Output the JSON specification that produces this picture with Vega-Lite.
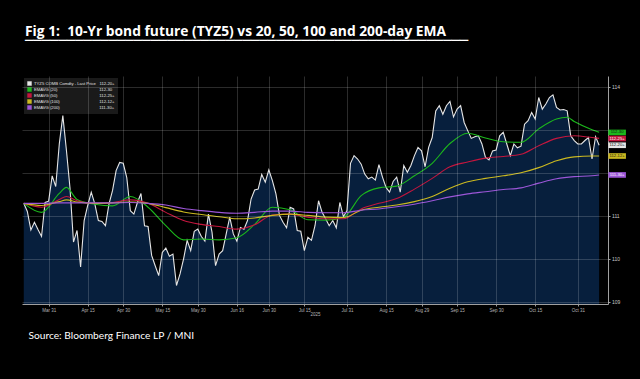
{
  "$schema": "https://vega.github.io/schema/vega-lite/v6.json",
  "width": 586,
  "height": 228,
  "autosize": "none",
  "padding": {"left": 22, "top": 76, "right": 32, "bottom": 75},
  "background": "#000000",
  "config": {"view": {"stroke": null}},
  "title": {
    "text": "Fig 1: \u00a010-Yr bond future (TYZ5) vs 20, 50, 100 and 200-day EMA",
    "subtitle": "─────────────────────────────────────────────────────",
    "anchor": "start",
    "frame": "group",
    "dx": 3,
    "offset": 28,
    "font": "Open Sans",
    "fontSize": 13.8,
    "fontWeight": "bold",
    "color": "#ffffff",
    "subtitleFont": "DejaVu Sans Mono",
    "subtitleFontSize": 13.9,
    "subtitleColor": "#ffffff",
    "subtitlePadding": -5
  },
  "data": {"values": [
    {"d":"2025-03-20","p":111.29,"e20":111.29,"e50":111.29,"e100":111.29,"e200":111.29},
    {"d":"2025-03-21","p":111.10},
    {"d":"2025-03-24","p":110.67},
    {"d":"2025-03-25","p":110.85},
    {"d":"2025-03-26","p":110.68},
    {"d":"2025-03-27","p":110.52,"e20":111.08,"e50":111.20,"e100":111.24,"e200":111.29},
    {"d":"2025-03-28","p":111.31},
    {"d":"2025-03-31","p":111.34},
    {"d":"2025-04-01","p":111.93},
    {"d":"2025-04-02","p":111.68},
    {"d":"2025-04-03","p":112.67,"e20":111.52,"e50":111.38,"e100":111.33,"e200":111.30},
    {"d":"2025-04-04","p":113.33},
    {"d":"2025-04-07","p":112.53,"e20":111.66,"e50":111.45,"e100":111.37},
    {"d":"2025-04-08","p":111.66},
    {"d":"2025-04-09","p":110.39},
    {"d":"2025-04-10","p":110.66,"e20":111.38,"e50":111.35,"e100":111.32,"e200":111.30},
    {"d":"2025-04-11","p":109.81},
    {"d":"2025-04-14","p":110.89},
    {"d":"2025-04-15","p":111.24},
    {"d":"2025-04-16","p":111.55},
    {"d":"2025-04-17","p":111.28,"e20":111.27,"e50":111.29,"e100":111.29,"e200":111.30},
    {"d":"2025-04-21","p":110.89},
    {"d":"2025-04-22","p":110.87},
    {"d":"2025-04-23","p":110.77},
    {"d":"2025-04-24","p":111.28},
    {"d":"2025-04-25","p":111.59,"e20":111.23,"e50":111.31,"e100":111.30,"e200":111.30},
    {"d":"2025-04-28","p":112.05},
    {"d":"2025-04-29","p":112.24},
    {"d":"2025-04-30","p":112.22},
    {"d":"2025-05-01","p":111.89},
    {"d":"2025-05-02","p":111.12,"e20":111.45,"e50":111.37,"e100":111.32,"e200":111.31},
    {"d":"2025-05-05","p":111.04},
    {"d":"2025-05-06","p":111.31},
    {"d":"2025-05-07","p":111.52},
    {"d":"2025-05-08","p":110.77},
    {"d":"2025-05-09","p":110.75,"e20":111.20,"e50":111.29,"e100":111.29,"e200":111.29},
    {"d":"2025-05-12","p":110.08},
    {"d":"2025-05-13","p":109.84},
    {"d":"2025-05-14","p":109.61},
    {"d":"2025-05-15","p":110.15},
    {"d":"2025-05-16","p":110.25,"e20":110.77,"e50":111.08,"e100":111.19,"e200":111.25},
    {"d":"2025-05-19","p":110.06},
    {"d":"2025-05-20","p":110.11},
    {"d":"2025-05-21","p":109.38},
    {"d":"2025-05-22","p":109.65},
    {"d":"2025-05-23","p":110.00,"e20":110.44,"e50":110.89,"e100":111.09,"e200":111.17},
    {"d":"2025-05-27","p":110.43},
    {"d":"2025-05-28","p":110.19},
    {"d":"2025-05-29","p":110.64},
    {"d":"2025-05-30","p":110.69},
    {"d":"2025-06-02","p":110.52,"e20":110.46,"e50":110.80,"e100":111.03,"e200":111.12},
    {"d":"2025-06-03","p":110.41},
    {"d":"2025-06-04","p":111.04},
    {"d":"2025-06-05","p":110.62},
    {"d":"2025-06-06","p":109.84},
    {"d":"2025-06-09","p":110.11,"e20":110.44,"e50":110.75,"e100":110.98,"e200":111.08},
    {"d":"2025-06-10","p":110.19},
    {"d":"2025-06-11","p":110.58},
    {"d":"2025-06-12","p":110.97},
    {"d":"2025-06-13","p":110.58},
    {"d":"2025-06-16","p":110.41,"e20":110.49,"e50":110.69,"e100":110.93,"e200":111.06},
    {"d":"2025-06-17","p":110.73},
    {"d":"2025-06-18","p":110.69},
    {"d":"2025-06-20","p":110.89},
    {"d":"2025-06-23","p":111.39},
    {"d":"2025-06-24","p":111.60,"e20":110.80,"e50":110.79,"e100":110.95,"e200":111.08},
    {"d":"2025-06-25","p":111.62},
    {"d":"2025-06-26","p":111.96},
    {"d":"2025-06-27","p":111.78},
    {"d":"2025-06-30","p":112.07},
    {"d":"2025-07-01","p":111.82,"e20":111.20,"e50":111.02,"e100":111.01,"e200":111.11},
    {"d":"2025-07-02","p":111.51},
    {"d":"2025-07-03","p":111.01},
    {"d":"2025-07-07","p":110.85},
    {"d":"2025-07-08","p":110.72},
    {"d":"2025-07-09","p":111.20,"e20":111.14,"e50":111.04,"e100":111.04,"e200":111.11},
    {"d":"2025-07-10","p":111.16},
    {"d":"2025-07-11","p":110.66},
    {"d":"2025-07-14","p":110.64},
    {"d":"2025-07-15","p":110.19},
    {"d":"2025-07-16","p":110.50,"e20":110.91,"e50":110.97,"e100":111.01,"e200":111.08},
    {"d":"2025-07-17","p":110.43},
    {"d":"2025-07-18","p":110.77},
    {"d":"2025-07-21","p":111.35},
    {"d":"2025-07-22","p":111.08},
    {"d":"2025-07-23","p":110.93,"e20":110.90,"e50":110.93,"e100":110.97,"e200":111.07},
    {"d":"2025-07-24","p":110.77},
    {"d":"2025-07-25","p":110.89},
    {"d":"2025-07-28","p":110.72},
    {"d":"2025-07-29","p":111.31},
    {"d":"2025-07-30","p":110.98,"e20":110.96,"e50":110.93,"e100":110.96,"e200":111.07},
    {"d":"2025-07-31","p":111.12},
    {"d":"2025-08-01","p":112.22},
    {"d":"2025-08-04","p":112.40},
    {"d":"2025-08-05","p":112.32},
    {"d":"2025-08-06","p":112.20,"e20":111.47,"e50":111.16,"e100":111.13,"e200":111.13},
    {"d":"2025-08-07","p":111.97},
    {"d":"2025-08-08","p":111.86},
    {"d":"2025-08-11","p":111.90},
    {"d":"2025-08-12","p":111.83},
    {"d":"2025-08-13","p":112.19,"e20":111.65,"e50":111.29,"e100":111.20,"e200":111.16},
    {"d":"2025-08-14","p":111.90},
    {"d":"2025-08-15","p":111.66},
    {"d":"2025-08-18","p":111.55},
    {"d":"2025-08-19","p":111.80},
    {"d":"2025-08-20","p":111.90,"e20":111.69,"e50":111.40,"e100":111.25,"e200":111.21},
    {"d":"2025-08-21","p":111.55},
    {"d":"2025-08-22","p":112.17},
    {"d":"2025-08-25","p":112.01},
    {"d":"2025-08-26","p":112.17},
    {"d":"2025-08-27","p":112.40,"e20":111.93,"e50":111.62,"e100":111.33,"e200":111.27},
    {"d":"2025-08-28","p":112.59},
    {"d":"2025-08-29","p":112.51},
    {"d":"2025-09-02","p":112.14},
    {"d":"2025-09-03","p":112.59},
    {"d":"2025-09-04","p":112.82,"e20":112.22,"e50":111.87,"e100":111.45,"e200":111.35},
    {"d":"2025-09-05","p":113.44},
    {"d":"2025-09-08","p":113.56},
    {"d":"2025-09-09","p":113.36},
    {"d":"2025-09-10","p":113.56},
    {"d":"2025-09-11","p":113.66,"e20":112.68,"e50":112.14,"e100":111.64,"e200":111.44},
    {"d":"2025-09-12","p":113.30},
    {"d":"2025-09-15","p":113.48},
    {"d":"2025-09-16","p":113.56},
    {"d":"2025-09-17","p":113.17},
    {"d":"2025-09-18","p":112.98,"e20":112.92,"e50":112.25,"e100":111.79,"e200":111.51},
    {"d":"2025-09-19","p":112.80},
    {"d":"2025-09-22","p":112.84},
    {"d":"2025-09-23","p":112.86},
    {"d":"2025-09-24","p":112.67},
    {"d":"2025-09-25","p":112.36,"e20":112.81,"e50":112.34,"e100":111.87,"e200":111.56},
    {"d":"2025-09-26","p":112.30},
    {"d":"2025-09-29","p":112.51},
    {"d":"2025-09-30","p":112.53},
    {"d":"2025-10-01","p":112.86},
    {"d":"2025-10-02","p":112.94,"e20":112.72,"e50":112.38,"e100":111.93,"e200":111.61},
    {"d":"2025-10-03","p":112.67},
    {"d":"2025-10-06","p":112.40},
    {"d":"2025-10-07","p":112.67},
    {"d":"2025-10-08","p":112.58},
    {"d":"2025-10-09","p":112.62,"e20":112.71,"e50":112.43,"e100":112.00,"e200":111.65},
    {"d":"2025-10-10","p":113.13},
    {"d":"2025-10-13","p":113.21},
    {"d":"2025-10-14","p":113.40},
    {"d":"2025-10-15","p":113.25},
    {"d":"2025-10-16","p":113.75,"e20":113.02,"e50":112.63,"e100":112.12,"e200":111.76},
    {"d":"2025-10-17","p":113.48},
    {"d":"2025-10-20","p":113.60},
    {"d":"2025-10-21","p":113.75},
    {"d":"2025-10-22","p":113.81},
    {"d":"2025-10-23","p":113.52,"e20":113.25,"e50":112.80,"e100":112.28,"e200":111.86},
    {"d":"2025-10-24","p":113.46},
    {"d":"2025-10-27","p":113.47},
    {"d":"2025-10-28","p":113.44,"e20":113.29},
    {"d":"2025-10-29","p":112.86},
    {"d":"2025-10-30","p":112.75,"e20":113.19,"e50":112.86,"e100":112.37,"e200":111.91},
    {"d":"2025-10-31","p":112.67},
    {"d":"2025-11-03","p":112.67},
    {"d":"2025-11-04","p":112.75},
    {"d":"2025-11-05","p":112.82},
    {"d":"2025-11-06","p":112.32,"e20":113.00,"e50":112.82,"e100":112.39,"e200":111.93},
    {"d":"2025-11-07","p":112.84},
    {"d":"2025-11-10","p":112.64,"e20":112.94,"e50":112.80,"e100":112.39,"e200":111.95}
  ]},
  "resolve": {"axis": {"x": "independent", "y": "independent"}},
  "layer": [
    {
      "mark": {"type": "area", "color": "#071f3d", "opacity": 1, "clip": true},
      "encoding": {
        "x": {
          "field": "d", "type": "ordinal",
          "scale": {"type": "point", "padding": 0.5, "domain": {"unionWith": ["2025-11-11", "2025-11-12"]}},
          "axis": {
            "orient": "bottom",
            "values": ["2025-03-31","2025-04-15","2025-04-30","2025-05-15","2025-05-30","2025-06-16","2025-06-30","2025-07-15","2025-07-31","2025-08-15","2025-08-29","2025-09-15","2025-09-30","2025-10-15","2025-10-31"],
            "labelExpr": "utcFormat(toDate(datum.value), '%b %d')",
            "labelAngle": 0, "labelFont": "Liberation Sans", "labelFontSize": 4.5, "labelColor": "#b5b5b5", "labelPadding": 1,
            "tickSize": 2, "tickColor": "#9a9a9a", "domainColor": "#a0a0a0", "domainWidth": 1,
            "grid": true, "gridColor": "#ffffff", "gridOpacity": 0.17, "gridWidth": 1,
            "title": "2025", "titleFont": "Liberation Sans", "titleFontSize": 4.5, "titleFontWeight": "normal", "titleColor": "#b5b5b5",
            "titleY": 11, "titleBaseline": "alphabetic",
            "zindex": 1
          }
        },
        "y": {
          "field": "p", "type": "quantitative",
          "scale": {"domain": [108.95, 114.25], "zero": false, "nice": false},
          "axis": {"orient": "right", "values": [109, 110, 111, 112, 113, 114], "grid": true, "gridColor": "#ffffff", "gridOpacity": 0.17, "labels": false, "ticks": false, "domain": false, "title": null, "zindex": 1}
        }
      }
    },
    {
      "transform": [{"fold": ["p", "e20", "e50", "e100", "e200"], "as": ["s", "v"]}, {"filter": "datum.s == 'p'"}],
      "mark": {"type": "line", "strokeWidth": 1.1},
      "encoding": {
        "x": {
          "field": "d", "type": "ordinal",
          "axis": {
            "orient": "bottom", "labels": false, "ticks": false, "domain": false, "grid": false,
            "title": "Source: Bloomberg Finance LP / MNI", "titleX": 6, "titleY": 34, "titleAlign": "left", "titleBaseline": "alphabetic",
            "titleColor": "#ffffff", "titleFont": "Lato", "titleFontSize": 10.2, "titleFontWeight": "normal"
          }
        },
        "y": {
          "field": "v", "type": "quantitative",
          "axis": {"orient": "right", "values": [109, 110, 111, 114], "grid": false, "domain": true, "domainColor": "#a0a0a0", "ticks": true, "tickSize": 2, "tickColor": "#a0a0a0", "labelFont": "Liberation Sans", "labelFontSize": 5, "labelColor": "#c8c8c8", "labelPadding": 1.5, "title": null, "zindex": 0}
        },
        "color": {
          "field": "s", "type": "nominal",
          "scale": {"domain": ["p", "e20", "e50", "e100", "e200"], "range": ["#e6e6e6", "#1cb81c", "#c4163e", "#cbb920", "#9c56d8"]},
          "legend": {
            "orient": "top-left", "offset": 2, "padding": 3, "fillColor": "#1a1a1a", "title": null,
            "symbolType": "square", "symbolSize": 16, "labelFont": "Liberation Sans", "labelFontSize": 4.2, "labelColor": "#e0e0e0",
            "labelOffset": 2, "rowPadding": -2.5, "labelLimit": 300,
            "labelExpr": "datum.value == 'p' ? 'TYZ5 COMB Comdty - Last Price' + pad('', 3, '\u00a0') + '112-20+' : datum.value == 'e20' ? 'EMAVG (20)' + pad('', 36, '\u00a0') + '112-30' : datum.value == 'e50' ? 'EMAVG (50)' + pad('', 36, '\u00a0') + '112-25+' : datum.value == 'e100' ? 'EMAVG (100)' + pad('', 34, '\u00a0') + '112-12+' : 'EMAVG (200)' + pad('', 34, '\u00a0') + '111-30+'",
            "encode": {"symbols": {"update": {"fill": {"scale": "color", "field": "value"}, "stroke": {"value": "#cccccc"}, "strokeWidth": {"value": 0.4}, "opacity": {"value": 1}, "size": {"value": 16}, "shape": {"value": "square"}}}}
          }
        }
      }
    },
    {
      "transform": [{"fold": ["p", "e20", "e50", "e100", "e200"], "as": ["s", "v"]}, {"filter": "datum.s != 'p' && isValid(datum.v)"}],
      "mark": {"type": "line", "strokeWidth": 1.1, "interpolate": "monotone"},
      "encoding": {
        "x": {"field": "d", "type": "ordinal", "axis": null},
        "y": {"field": "v", "type": "quantitative", "axis": null},
        "color": {"field": "s", "type": "nominal"}
      }
    },
    {
      "data": {"values": [
        {"d": "2025-11-10", "s": "e20", "v": 112.9375, "t": "112-30"},
        {"d": "2025-11-10", "s": "e50", "v": 112.797, "t": "112-25+"},
        {"d": "2025-11-10", "s": "p", "v": 112.64, "t": "112-20+"},
        {"d": "2025-11-10", "s": "e100", "v": 112.39, "t": "112-12+"},
        {"d": "2025-11-10", "s": "e200", "v": 111.95, "t": "111-30+"}
      ]},
      "layer": [
        {
          "mark": {"type": "point", "shape": "M-1,-0.32L1,-0.32L1,0.32L-1,0.32Z", "filled": true, "size": 310, "opacity": 1, "xOffset": 18},
          "encoding": {
            "x": {"field": "d", "type": "ordinal", "axis": null},
            "y": {"field": "v", "type": "quantitative", "axis": null},
            "color": {"field": "s", "type": "nominal"}
          }
        },
        {
          "mark": {"type": "text", "xOffset": 18, "font": "Liberation Sans", "fontSize": 4.2, "align": "center", "baseline": "middle"},
          "encoding": {
            "x": {"field": "d", "type": "ordinal", "axis": null},
            "y": {"field": "v", "type": "quantitative", "axis": null},
            "text": {"field": "t"},
            "fill": {"field": "s", "type": "nominal", "scale": {"domain": ["p", "e20", "e50", "e100", "e200"], "range": ["#111111", "#111111", "#ffffff", "#111111", "#ffffff"]}, "legend": null}
          }
        }
      ]
    }
  ]
}
